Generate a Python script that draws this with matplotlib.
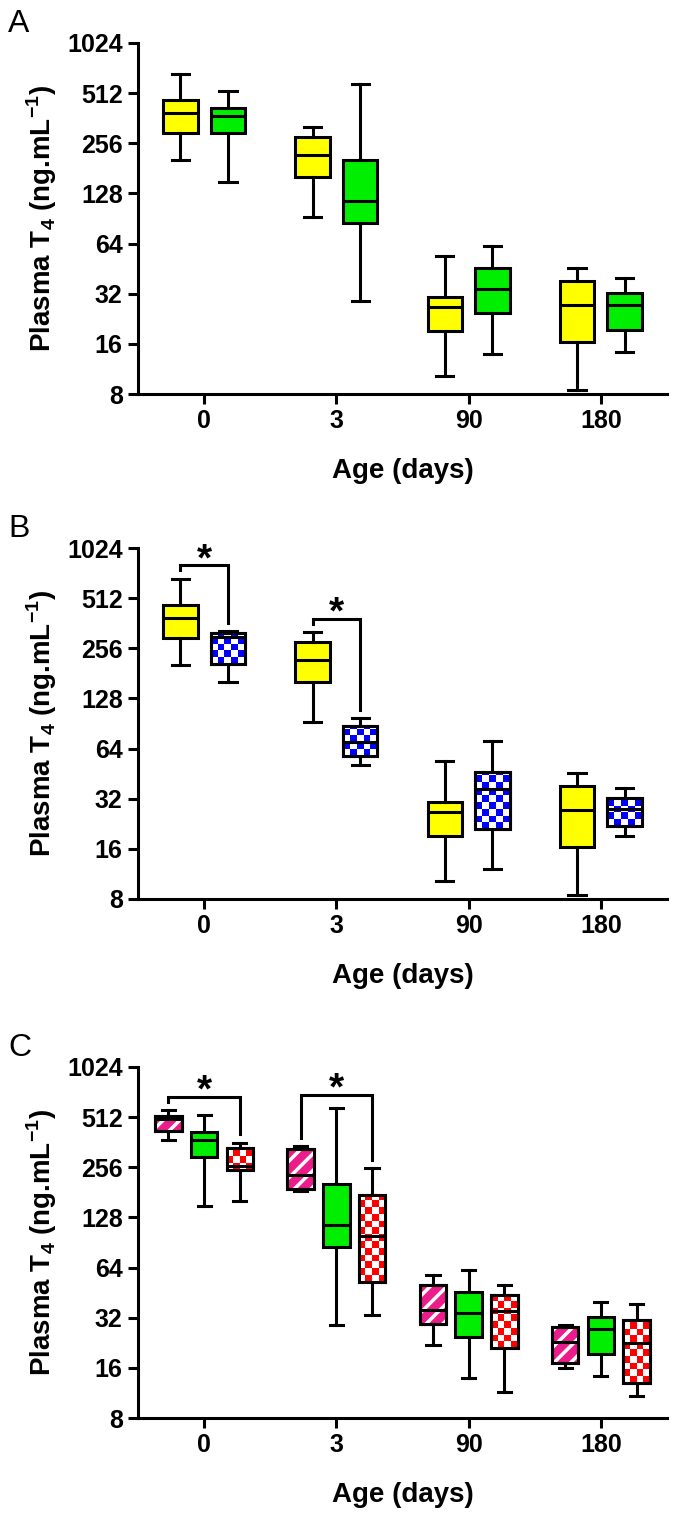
import matplotlib.pyplot as plt
import numpy as np
from matplotlib.colors import ListedColormap
from matplotlib.patches import PathPatch
from matplotlib.ticker import NullLocator

plt.rcParams["font.family"] = ["Liberation Sans", "DejaVu Sans"]
plt.rcParams["mathtext.fontset"] = "custom"
plt.rcParams["mathtext.rm"] = "Liberation Sans"
plt.rcParams["mathtext.bf"] = "Liberation Sans:bold"
plt.rcParams["hatch.linewidth"] = 2.5

days = ["0", "3", "90", "180"]
yticks = [8, 16, 32, 64, 128, 256, 512, 1024]

# per age group: [low whisker, Q1, median, Q3, high whisker]
yellow = [[204, 296, 390, 463, 670], [93, 160, 218, 280, 320],
          [10.3, 19, 26.5, 30.6, 54], [8.5, 16.5, 27.2, 38.4, 45.6]]
green = [[150, 297, 371, 417, 525], [28.8, 85, 116, 202, 578],
         [14, 24.6, 34.3, 45.8, 62.3], [14.2, 19.5, 27.5, 32.4, 39.7]]
blue = [[161, 206, 300, 318, 326], [51, 58, 70, 88, 97],
        [12.1, 21, 36.5, 46.3, 71], [19, 22, 27.7, 32.5, 37.3]]
pink = [[374, 420, 500, 520, 565], [185, 190, 229, 329, 344],
        [21.8, 29.5, 35.8, 50, 58], [16, 17, 23, 28, 28.8]]
red = [[160, 248, 262, 336, 360], [33, 52.7, 99, 175, 253],
       [11.5, 21, 35, 44, 50.5], [10.8, 13, 22.7, 31, 38.7]]

LW = 2.2


def checker(ax, box, color, x0, x1, y0, y1):
    nx = max(int(round((x1 - x0) / 0.052)), 1)
    xe = np.linspace(x0, x1, nx + 1)
    ye = 2 ** np.arange(np.log2(y0), np.log2(y1) + 0.14, 0.135)
    c = np.add.outer(np.arange(len(ye) - 1), np.arange(nx)) % 2
    mesh = ax.pcolormesh(xe, ye, c, cmap=ListedColormap(["white", color]),
                         vmin=0, vmax=1, shading="flat", zorder=2.1)
    mesh.set_clip_path(box)


def draw_boxes(ax, data, color, offset, width, pattern=None):
    stats = [dict(whislo=v[0], q1=v[1], med=v[2], q3=v[3], whishi=v[4])
             for v in data]
    pos = np.arange(len(data)) + offset
    face = "white" if pattern == "checks" else color
    bp = ax.bxp(stats, positions=pos, widths=width, patch_artist=True,
                showfliers=False, capwidths=width * 0.5,
                boxprops=dict(facecolor=face, edgecolor="black", linewidth=LW),
                whiskerprops=dict(color="black", linewidth=LW),
                capprops=dict(color="black", linewidth=LW),
                medianprops=dict(color="black", linewidth=LW, zorder=5))
    for box, p, v in zip(bp["boxes"], pos, data):
        if pattern is None:
            continue
        path = box.get_path()
        if pattern == "stripes":
            ax.add_patch(PathPatch(path, facecolor="none", edgecolor="white",
                                   hatch="//", linewidth=0, zorder=2.1))
        else:
            checker(ax, box, color, p - width / 2, p + width / 2, v[1], v[3])
        ax.add_patch(PathPatch(path, facecolor="none", edgecolor="black",
                               linewidth=LW, zorder=2.2))
    return pos


def bracket(ax, xl, xr, left_top, right_top, peak):
    top = peak * 1.2
    ax.plot([xl, xl, xr, xr], [left_top * 1.12, top, top, right_top * 1.12],
            color="black", linewidth=LW, solid_joinstyle="miter", zorder=4)
    ax.text((xl + xr) / 2, top * 0.84, "*", ha="center", va="bottom",
            fontsize=28, fontweight="bold")


def style_axes(ax, letter, top_px):
    ax.set_yscale("log", base=2)
    ax.set_ylim(8, 1024)
    ax.set_yticks(yticks, [str(t) for t in yticks])
    ax.yaxis.set_minor_locator(NullLocator())
    ax.set_xlim(-0.5, 3.5)
    ax.set_xticks(range(4), days)
    ax.spines[["top", "right"]].set_visible(False)
    ax.spines[["left", "bottom"]].set_linewidth(LW)
    ax.tick_params(width=LW, length=7, labelsize=18, pad=4)
    for lab in ax.get_xticklabels() + ax.get_yticklabels():
        lab.set_fontweight("bold")
    fig.text(42 / W, 1 - (top_px + 175) / H,
             r"Plasma T$_\mathbf{4}$ (ng.mL$^\mathbf{-1}$)", rotation=90,
             ha="center", va="center", fontsize=20, fontweight="bold")
    fig.text(403 / W, 1 - (top_px + 428) / H, "Age (days)", ha="center",
             va="center", fontsize=20, fontweight="bold")
    fig.text(8 / W, 1 - (top_px - 34) / H, letter, ha="left", va="top",
             fontsize=23)


W, H = 676, 1517
fig = plt.figure(figsize=(W / 100, H / 100), dpi=100)
tops = [43, 548, 1067]
axes = [fig.add_axes([138 / W, 1 - (t + 351) / H, 529 / W, 351 / H])
        for t in tops]

# A
ax = axes[0]
draw_boxes(ax, yellow, "#ffff00", -0.18, 0.26)
draw_boxes(ax, green, "#00ee00", 0.18, 0.26)
style_axes(ax, "A", tops[0])

# B
ax = axes[1]
py = draw_boxes(ax, yellow, "#ffff00", -0.18, 0.26)
pb = draw_boxes(ax, blue, "#0000ff", 0.18, 0.26, "checks")
for i in [0, 1]:
    bracket(ax, py[i], pb[i], yellow[i][4], blue[i][4],
            max(yellow[i][4], blue[i][4]))
style_axes(ax, "B", tops[1])

# C
ax = axes[2]
pp = draw_boxes(ax, pink, "#ec1c8c", -0.27, 0.2, "stripes")
draw_boxes(ax, green, "#00ee00", 0.0, 0.2)
pr = draw_boxes(ax, red, "#ff0000", 0.27, 0.2, "checks")
for i in [0, 1]:
    bracket(ax, pp[i], pr[i], pink[i][4], red[i][4],
            max(pink[i][4], green[i][4], red[i][4]))
style_axes(ax, "C", tops[2])

fig.savefig("out.png", dpi=100)
